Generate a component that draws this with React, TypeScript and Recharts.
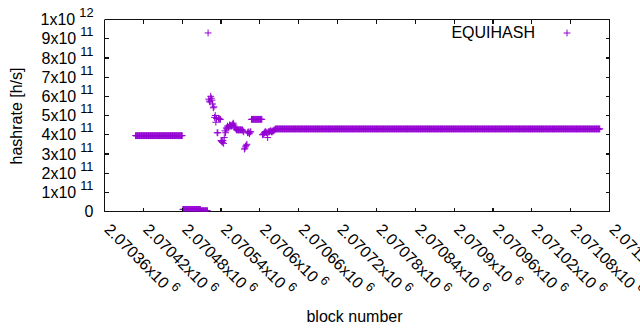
import React from 'react';
import { ScatterChart, Scatter, XAxis, YAxis } from 'recharts';

const seriesName = 'EQUIHASH';
const firstBlock = 2070408;

// hashrate for each block from firstBlock on, in units of 1e11 h/s
const hashrate = [
  // 2070408 .. 2070480
  3.95, 3.95, 3.95, 3.95, 3.95, 3.95, 3.95, 3.95, 3.95, 3.95, 3.95, 3.95, 3.95, 3.95, 3.95, 3.95, 3.95, 3.95, 3.95, 3.95, 3.95, 3.95, 3.95, 3.95, 3.95,
  3.95, 3.95, 3.95, 3.95, 3.95, 3.95, 3.95, 3.95, 3.95, 3.95, 3.95, 3.95, 3.95, 3.95, 3.95, 3.95, 3.95, 3.95, 3.95, 3.95, 3.95, 3.95, 3.95, 3.95, 3.95,
  3.95, 3.95, 3.95, 3.95, 3.95, 3.95, 3.95, 3.95, 3.95, 3.95, 3.95, 3.95, 3.95, 3.95, 3.95, 3.95, 3.95, 3.95, 3.95, 3.95, 3.95, 3.95, 3.95,
  // 2070481 .. 2070519
  0.11, 0.11, 0.11, 0.11, 0.11, 0.11, 0.11, 0.11, 0.11, 0.11, 0.11, 0.11, 0.11, 0.11,
  0.11, 0.11, 0.11, 0.11, 0.11, 0.11, 0.11, 0.11, 0.11, 0.11, 0.11, 0.11, 0.11, 0.11,
  0.04, 0.04, 0.04, 0.04, 0.04, 0.04, 0.04, 0.04, 0.04, 0.04, 0.04,
  // 2070520 .. 2070625
  9.3, 5.85, 5.75, 5.7, 6.0, 5.9, 5.8, 5.6, 5.4, 5.45, 4.9, 5.0, 4.65, 4.85, 4.1, 4.1,
  4.85, 4.85, 4.8, 4.8, 3.7, 3.65, 3.6, 3.7, 3.55, 3.85, 4.2, 4.1, 4.35, 4.3, 4.45, 4.4,
  4.35, 4.5, 4.5, 4.45, 4.45, 4.5, 4.55, 4.6, 4.5, 4.4, 4.35, 4.3,
  4.25, 4.25, 4.25, 4.25, 4.25, 4.25, 4.25, 4.25, 4.25, 4.25,
  4.2, 4.15, 3.25, 3.3, 3.4, 3.45, 3.5, 4.1, 4.15, 4.1, 4.05, 4.15, 4.15, 4.8,
  4.8, 4.8, 4.8, 4.8, 4.8, 4.8, 4.8, 4.8, 4.8, 4.8, 4.8, 4.8, 4.8, 4.8, 4.8, 4.8,
  4.0, 4.0, 4.05, 4.1, 4.15, 4.15, 4.1, 4.1, 3.85, 4.15, 4.15, 4.15, 4.2, 4.2,
  4.15, 4.15, 4.2, 4.2, 4.25, 4.25, 4.3, 4.3,
  // 2070626 .. 2071125
  4.3, 4.3, 4.3, 4.3, 4.3, 4.3, 4.3, 4.3, 4.3, 4.3, 4.3, 4.3, 4.3, 4.3, 4.3, 4.3, 4.3, 4.3, 4.3, 4.3, 4.3, 4.3, 4.3, 4.3, 4.3,
  4.3, 4.3, 4.3, 4.3, 4.3, 4.3, 4.3, 4.3, 4.3, 4.3, 4.3, 4.3, 4.3, 4.3, 4.3, 4.3, 4.3, 4.3, 4.3, 4.3, 4.3, 4.3, 4.3, 4.3, 4.3,
  4.3, 4.3, 4.3, 4.3, 4.3, 4.3, 4.3, 4.3, 4.3, 4.3, 4.3, 4.3, 4.3, 4.3, 4.3, 4.3, 4.3, 4.3, 4.3, 4.3, 4.3, 4.3, 4.3, 4.3, 4.3,
  4.3, 4.3, 4.3, 4.3, 4.3, 4.3, 4.3, 4.3, 4.3, 4.3, 4.3, 4.3, 4.3, 4.3, 4.3, 4.3, 4.3, 4.3, 4.3, 4.3, 4.3, 4.3, 4.3, 4.3, 4.3,
  4.3, 4.3, 4.3, 4.3, 4.3, 4.3, 4.3, 4.3, 4.3, 4.3, 4.3, 4.3, 4.3, 4.3, 4.3, 4.3, 4.3, 4.3, 4.3, 4.3, 4.3, 4.3, 4.3, 4.3, 4.3,
  4.3, 4.3, 4.3, 4.3, 4.3, 4.3, 4.3, 4.3, 4.3, 4.3, 4.3, 4.3, 4.3, 4.3, 4.3, 4.3, 4.3, 4.3, 4.3, 4.3, 4.3, 4.3, 4.3, 4.3, 4.3,
  4.3, 4.3, 4.3, 4.3, 4.3, 4.3, 4.3, 4.3, 4.3, 4.3, 4.3, 4.3, 4.3, 4.3, 4.3, 4.3, 4.3, 4.3, 4.3, 4.3, 4.3, 4.3, 4.3, 4.3, 4.3,
  4.3, 4.3, 4.3, 4.3, 4.3, 4.3, 4.3, 4.3, 4.3, 4.3, 4.3, 4.3, 4.3, 4.3, 4.3, 4.3, 4.3, 4.3, 4.3, 4.3, 4.3, 4.3, 4.3, 4.3, 4.3,
  4.3, 4.3, 4.3, 4.3, 4.3, 4.3, 4.3, 4.3, 4.3, 4.3, 4.3, 4.3, 4.3, 4.3, 4.3, 4.3, 4.3, 4.3, 4.3, 4.3, 4.3, 4.3, 4.3, 4.3, 4.3,
  4.3, 4.3, 4.3, 4.3, 4.3, 4.3, 4.3, 4.3, 4.3, 4.3, 4.3, 4.3, 4.3, 4.3, 4.3, 4.3, 4.3, 4.3, 4.3, 4.3, 4.3, 4.3, 4.3, 4.3, 4.3,
  4.3, 4.3, 4.3, 4.3, 4.3, 4.3, 4.3, 4.3, 4.3, 4.3, 4.3, 4.3, 4.3, 4.3, 4.3, 4.3, 4.3, 4.3, 4.3, 4.3, 4.3, 4.3, 4.3, 4.3, 4.3,
  4.3, 4.3, 4.3, 4.3, 4.3, 4.3, 4.3, 4.3, 4.3, 4.3, 4.3, 4.3, 4.3, 4.3, 4.3, 4.3, 4.3, 4.3, 4.3, 4.3, 4.3, 4.3, 4.3, 4.3, 4.3,
  4.3, 4.3, 4.3, 4.3, 4.3, 4.3, 4.3, 4.3, 4.3, 4.3, 4.3, 4.3, 4.3, 4.3, 4.3, 4.3, 4.3, 4.3, 4.3, 4.3, 4.3, 4.3, 4.3, 4.3, 4.3,
  4.3, 4.3, 4.3, 4.3, 4.3, 4.3, 4.3, 4.3, 4.3, 4.3, 4.3, 4.3, 4.3, 4.3, 4.3, 4.3, 4.3, 4.3, 4.3, 4.3, 4.3, 4.3, 4.3, 4.3, 4.3,
  4.3, 4.3, 4.3, 4.3, 4.3, 4.3, 4.3, 4.3, 4.3, 4.3, 4.3, 4.3, 4.3, 4.3, 4.3, 4.3, 4.3, 4.3, 4.3, 4.3, 4.3, 4.3, 4.3, 4.3, 4.3,
  4.3, 4.3, 4.3, 4.3, 4.3, 4.3, 4.3, 4.3, 4.3, 4.3, 4.3, 4.3, 4.3, 4.3, 4.3, 4.3, 4.3, 4.3, 4.3, 4.3, 4.3, 4.3, 4.3, 4.3, 4.3,
  4.3, 4.3, 4.3, 4.3, 4.3, 4.3, 4.3, 4.3, 4.3, 4.3, 4.3, 4.3, 4.3, 4.3, 4.3, 4.3, 4.3, 4.3, 4.3, 4.3, 4.3, 4.3, 4.3, 4.3, 4.3,
  4.3, 4.3, 4.3, 4.3, 4.3, 4.3, 4.3, 4.3, 4.3, 4.3, 4.3, 4.3, 4.3, 4.3, 4.3, 4.3, 4.3, 4.3, 4.3, 4.3, 4.3, 4.3, 4.3, 4.3, 4.3,
  4.3, 4.3, 4.3, 4.3, 4.3, 4.3, 4.3, 4.3, 4.3, 4.3, 4.3, 4.3, 4.3, 4.3, 4.3, 4.3, 4.3, 4.3, 4.3, 4.3, 4.3, 4.3, 4.3, 4.3, 4.3,
  4.3, 4.3, 4.3, 4.3, 4.3, 4.3, 4.3, 4.3, 4.3, 4.3, 4.3, 4.3, 4.3, 4.3, 4.3, 4.3, 4.3, 4.3, 4.3, 4.3, 4.3, 4.3, 4.3, 4.3, 4.3,
];

const blockTicks = [
  2070360, 2070420, 2070480, 2070540, 2070600, 2070660, 2070720,
  2070780, 2070840, 2070900, 2070960, 2071020, 2071080, 2071140,
];
const rateTicks = [0, 1e11, 2e11, 3e11, 4e11, 5e11, 6e11, 7e11, 8e11, 9e11, 1e12];

const violet = '#9400d3';
const ink = '#111111';
const font = '"Liberation Sans", Arial, sans-serif';

// plot box: left 104.5, top 19.5, 505 x 192
const plotW = 505;
const plotH = 192;

const data = hashrate.map((v, i) => ({ block: firstBlock + i, rate: v * 1e11 }));

const Plus = ({ cx, cy }: any) => (
  <path
    d={`M${cx - 3.4},${cy}h6.8M${cx},${cy - 3.4}v6.8`}
    stroke={violet}
    strokeWidth={1}
    fill="none"
  />
);

const BlockTick = ({ x, y, payload }: any) => {
  const mant = String(Number((payload.value / 1e6).toFixed(5)));
  return (
    <g>
      <path
        d={`M${x},${y}v-4M${x},${y - plotH}v4`}
        stroke={ink}
        strokeWidth={1.2}
        fill="none"
        shapeRendering="crispEdges"
      />
      <text
        transform={`translate(${x - 1},${y + 19}) rotate(45)`}
        fontSize={16}
        fontFamily={font}
        fill="#000"
      >
        {mant}x10
        <tspan dx={4} dy={-7} fontSize={12.8}>6</tspan>
      </text>
    </g>
  );
};

const RateTick = ({ x, y, payload }: any) => {
  const v = payload.value;
  const exp = v >= 1e12 ? 12 : 11;
  const mant = Math.round(v / 10 ** exp);
  return (
    <g>
      <path
        d={`M${x},${y}h4M${x + plotW},${y}h-4`}
        stroke={ink}
        strokeWidth={1.2}
        fill="none"
        shapeRendering="crispEdges"
      />
      <text x={x - 11} y={y + 5.7} textAnchor="end" fontSize={16} fontFamily={font} fill="#000">
        {v === 0 ? (
          '0'
        ) : (
          <>
            {mant}x10
            <tspan dx={4} dy={-8} fontSize={12.8}>{exp}</tspan>
          </>
        )}
      </text>
    </g>
  );
};

export default function App() {
  return (
    <div style={{ position: 'absolute', left: 0, top: 0, width: 640, height: 330, background: '#fff' }}>
      <ScatterChart width={640} height={330} margin={{ top: 19.5, right: 30.5, bottom: 18.5, left: 10.5 }}>
        <XAxis
          dataKey="block"
          type="number"
          domain={[2070360, 2071140]}
          allowDataOverflow
          ticks={blockTicks}
          interval={0}
          height={100}
          tickSize={0}
          tickMargin={0}
          tickLine={false}
          axisLine={{ stroke: ink }}
          tick={<BlockTick />}
        />
        <YAxis
          dataKey="rate"
          type="number"
          domain={[0, 1e12]}
          allowDataOverflow
          ticks={rateTicks}
          interval={0}
          width={94}
          tickSize={0}
          tickMargin={0}
          tickLine={false}
          axisLine={{ stroke: ink }}
          tick={<RateTick />}
        />
        <Scatter name={seriesName} data={data} shape={<Plus />} isAnimationActive={false} />
      </ScatterChart>
      <svg
        width={640}
        height={330}
        style={{ position: 'absolute', left: 0, top: 0, pointerEvents: 'none' }}
        fontFamily={font}
        fontSize={16}
      >
        <path
          d={`M104.5,19.5h${plotW}v${plotH}`}
          fill="none"
          stroke={ink}
          strokeWidth={1.2}
          shapeRendering="crispEdges"
        />
        <text transform="translate(22,116) rotate(-90)" textAnchor="middle" fill="#000">
          hashrate [h/s]
        </text>
        <text x={354.5} y={321.5} textAnchor="middle" fill="#000">
          block number
        </text>
        <text x={535} y={38.3} textAnchor="end" fill="#000">
          {seriesName}
        </text>
        <Plus cx={567} cy={33} />
      </svg>
    </div>
  );
}
